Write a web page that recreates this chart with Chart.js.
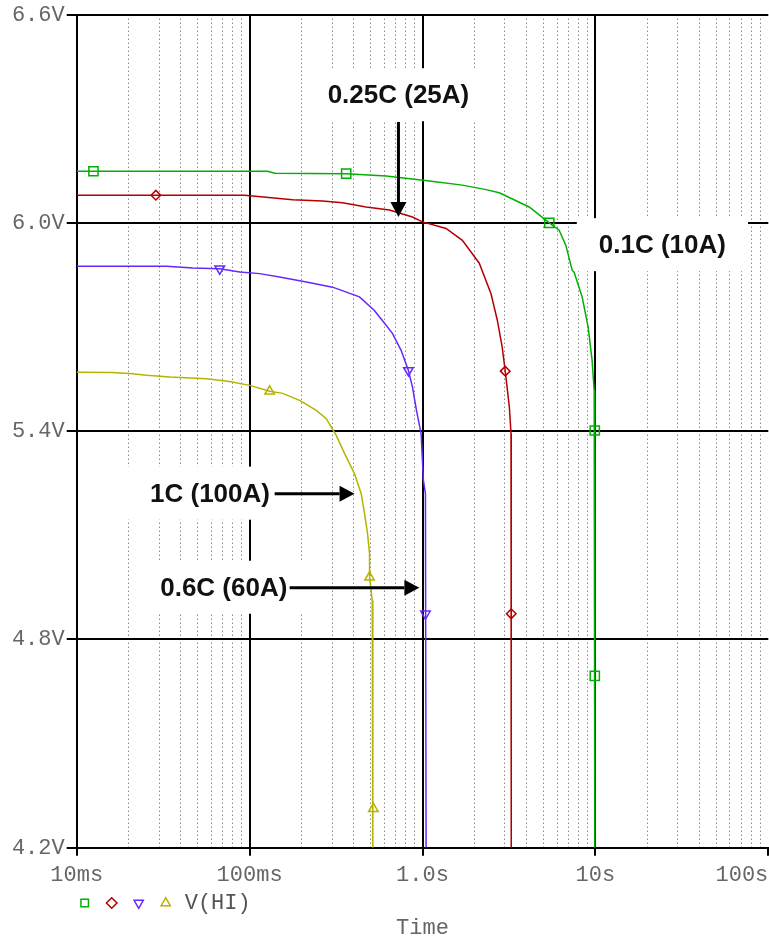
<!DOCTYPE html>
<html>
<head>
<meta charset="utf-8">
<title>V(HI) discharge curves</title>
<script src="https://cdn.jsdelivr.net/npm/chart.js@4.4.1/dist/chart.umd.min.js"></script>
<style>
  html, body { margin: 0; padding: 0; background: #fff; }
  #wrap { width: 769px; height: 939px; }
</style>
</head>
<body>
<div id="wrap"><canvas id="vChart"></canvas></div>
<script>
/* ── DATA ── */
// time axis in seconds (log), voltage axis in volts
const xTickValues = [0.01, 0.1, 1, 10, 100];
const xTickLabels = ["10ms", "100ms", "1.0s", "10s", "100s"];
const yTickValues = [4.2, 4.8, 5.4, 6.0, 6.6];

// 0.1C (10A)
const greenT = [0.01, 0.127, 0.14, 0.362, 0.617, 1.096, 1.70, 2.33, 2.78, 4.14, 5.41, 6.17, 6.74, 7.34, 7.53, 8.38, 9.08, 9.57, 9.84, 9.92, 9.92];
const greenV = [6.149, 6.149, 6.143, 6.142, 6.135, 6.121, 6.109, 6.096, 6.087, 6.046, 6.0, 5.979, 5.936, 5.864, 5.858, 5.787, 5.700, 5.604, 5.517, 5.402, 4.2];
const greenMarkT = [0.0125, 0.362, 5.41, 9.92, 9.92];
const greenMarkV = [6.149, 6.142, 6.0, 5.402, 4.695];

// 0.25C (25A)
const redT = [0.01, 0.0937, 0.1775, 0.264, 0.345, 0.472, 0.644, 0.874, 1.0, 1.368, 1.70, 2.13, 2.49, 2.71, 2.89, 3.01, 3.18, 3.25, 3.26];
const redV = [6.080, 6.080, 6.067, 6.063, 6.058, 6.046, 6.037, 6.017, 6.003, 5.984, 5.950, 5.884, 5.796, 5.719, 5.642, 5.573, 5.469, 5.393, 4.2];
const redMarkT = [0.0287, 3.01, 3.26];
const redMarkV = [6.080, 5.573, 4.874];

// 0.6C (60A)
const blueT = [0.01, 0.0331, 0.0469, 0.0672, 0.0877, 0.1143, 0.149, 0.213, 0.302, 0.432, 0.527, 0.586, 0.670, 0.752, 0.829, 0.875, 0.923, 0.982, 1.012, 1.040, 1.049];
const blueV = [5.875, 5.875, 5.870, 5.868, 5.859, 5.854, 5.844, 5.830, 5.815, 5.787, 5.748, 5.719, 5.682, 5.633, 5.575, 5.527, 5.460, 5.392, 5.258, 5.220, 4.2];
const blueMarkT = [0.0672, 0.829, 1.040];
const blueMarkV = [5.868, 5.575, 4.874];

// 1C (100A)
const oliveT = [0.01, 0.0159, 0.0203, 0.0254, 0.0346, 0.0563, 0.0767, 0.1001, 0.1306, 0.1553, 0.1946, 0.243, 0.2775, 0.317, 0.354, 0.404, 0.442, 0.462, 0.481, 0.494, 0.494, 0.512, 0.516];
const oliveV = [5.570, 5.569, 5.566, 5.561, 5.556, 5.551, 5.543, 5.532, 5.515, 5.509, 5.489, 5.460, 5.436, 5.388, 5.336, 5.278, 5.220, 5.163, 5.105, 5.047, 4.979, 4.912, 4.2];
const oliveMarkT = [0.1306, 0.494, 0.520];
const oliveMarkV = [5.515, 4.979, 4.312];

// callouts (anchor in data units: t, v)
const notes = [
    { text: "0.25C (25A)", t: 0.726, v: 6.368, arrow: [0.726, 6.291, 0.726, 6.017] },
    { text: "0.1C (10A)", t: 24.4, v: 5.936 },
    { text: "1C (100A)", t: 0.059, v: 5.220, arrow: [0.1396, 5.220, 0.4046, 5.220] },
    { text: "0.6C (60A)", t: 0.0709, v: 4.949, arrow: [0.1704, 4.949, 0.959, 4.949] },
];

/* ── HELPERS ── */
const toXY = (ts, vs) => ts.map((t, i) => ({ x: t, y: vs[i] }));

function curve(ts, vs, color) {
    return {
        label: "",
        data: toXY(ts, vs),
        borderColor: color,
        borderWidth: 1.5,
        pointRadius: 0,
        fill: false,
        tension: 0,
        isCurve: true,
    };
}

function markers(ts, vs, color, style, rot, size, label) {
    return {
        label: label,
        data: toXY(ts, vs),
        showLine: false,
        pointStyle: style,
        rotation: rot,
        pointRotation: rot,
        pointRadius: size,
        pointBorderWidth: 1.5,
        borderWidth: 1.5,
        borderColor: color,
        backgroundColor: "rgba(0,0,0,0)",
    };
}

const GREEN = "#00b000";
const RED = "#b40000";
const BLUE = "#6428ff";
const OLIVE = "#b4b400";

/* ── CALLOUT PLUGIN ── */
const noteFont = 'bold 26px "Liberation Sans", Arial, sans-serif';

function arrow(ctx, x1, y1, x2, y2) {
    const ang = Math.atan2(y2 - y1, x2 - x1);
    const headLen = 15, headHalf = 8;
    const bx = x2 - headLen * Math.cos(ang);
    const by = y2 - headLen * Math.sin(ang);
    ctx.strokeStyle = "#000";
    ctx.lineWidth = 3;
    ctx.beginPath();
    ctx.moveTo(x1, y1);
    ctx.lineTo(bx, by);
    ctx.stroke();
    ctx.fillStyle = "#000";
    ctx.beginPath();
    ctx.moveTo(x2, y2);
    ctx.lineTo(bx - headHalf * Math.sin(ang), by + headHalf * Math.cos(ang));
    ctx.lineTo(bx + headHalf * Math.sin(ang), by - headHalf * Math.cos(ang));
    ctx.closePath();
    ctx.fill();
}

const calloutPlugin = {
    id: "callouts",
    beforeDatasetsDraw(chart) {
        const { ctx, scales } = chart;
        ctx.save();
        ctx.font = noteFont;
        ctx.fillStyle = "#fff";
        notes.forEach((n) => {
            const cx = scales.x.getPixelForValue(n.t);
            const cy = scales.y.getPixelForValue(n.v);
            const w = ctx.measureText(n.text).width;
            ctx.fillRect(cx - w / 2 - 22, cy - 27, w + 44, 53);
        });
        ctx.restore();
    },
    afterDatasetsDraw(chart) {
        const { ctx, scales } = chart;
        ctx.save();
        ctx.font = noteFont;
        ctx.textAlign = "center";
        ctx.textBaseline = "middle";
        notes.forEach((n) => {
            const cx = scales.x.getPixelForValue(n.t);
            const cy = scales.y.getPixelForValue(n.v);
            ctx.fillStyle = "#111";
            ctx.fillText(n.text, cx, cy + 1);
            if (n.arrow) {
                const [t1, v1, t2, v2] = n.arrow;
                arrow(ctx,
                    scales.x.getPixelForValue(t1), scales.y.getPixelForValue(v1),
                    scales.x.getPixelForValue(t2), scales.y.getPixelForValue(v2));
            }
        });
        ctx.restore();
    },
};

/* ── CHART ── */
Chart.defaults.font.family = '"Liberation Mono", "DejaVu Sans Mono", monospace';
Chart.defaults.color = "#666";

const minorTicks = [];
[0.01, 0.1, 1, 10].forEach((d) => {
    for (let k = 2; k <= 9; k++) minorTicks.push({ value: +(d * k).toPrecision(3) });
});

const vCtx = document.getElementById("vChart").getContext("2d");
const vChart = new Chart(vCtx, {
    type: "line",
    data: {
        datasets: [
            curve(greenT, greenV, GREEN),
            curve(redT, redV, RED),
            curve(blueT, blueV, BLUE),
            curve(oliveT, oliveV, OLIVE),
            markers(greenMarkT, greenMarkV, GREEN, "rect", 0, 6.5, ""),
            markers(redMarkT, redMarkV, RED, "rectRot", 0, 4.8, ""),
            markers(blueMarkT, blueMarkV, BLUE, "triangle", 180, 5.5, ""),
            markers(oliveMarkT, oliveMarkV, OLIVE, "triangle", 0, 5.5, "V(HI)"),
        ],
    },
    options: {
        responsive: true,
        maintainAspectRatio: false,
        animation: false,
        layout: { autoPadding: false, padding: { top: 14.7, right: 0.7, left: 0, bottom: 0 } },
        scales: {
            x: {
                type: "logarithmic",
                position: "bottom",
                min: 0.01,
                max: 100,
                afterBuildTicks: (s) => { s.ticks = xTickValues.map((v) => ({ value: v })); },
                afterFit: (s) => { s.height = 44.3; s.paddingLeft = 0; s.paddingRight = 0; },
                grid: {
                    color: (c) => (c.tick && c.tick.value === 100 ? "rgba(0,0,0,0)" : "#000"),
                    lineWidth: 2,
                    tickLength: 8,
                    tickWidth: 2,
                    tickColor: "#000",
                },
                border: { color: "#000", width: 2 },
                ticks: {
                    autoSkip: false,
                    maxRotation: 0,
                    padding: 6,
                    color: "#666",
                    font: { size: 22 },
                    // last label padded so it ends at the 100s tick
                    callback: (value, i) => (i === xTickLabels.length - 1 ? xTickLabels[i] + "    " : xTickLabels[i]),
                },
            },
            xMinor: {
                type: "logarithmic",
                position: "bottom",
                min: 0.01,
                max: 100,
                afterBuildTicks: (s) => { s.ticks = minorTicks.slice(); },
                grid: {
                    color: "rgba(40,40,40,0.8)",
                    lineWidth: 1,
                    drawTicks: false,
                },
                border: { display: false, dash: [1, 3] },
                ticks: { display: false },
            },
            y: {
                type: "linear",
                min: 4.2,
                max: 6.6,
                afterBuildTicks: (s) => { s.ticks = yTickValues.map((v) => ({ value: v })); },
                afterFit: (s) => { s.width = 76.7; s.paddingTop = 0; s.paddingBottom = 0; },
                grid: {
                    color: "#000",
                    lineWidth: 2,
                    tickLength: 10,
                    tickWidth: 2,
                    tickColor: "#000",
                },
                border: { color: "#000", width: 2 },
                ticks: {
                    padding: 2,
                    color: "#666",
                    font: { size: 22 },
                    callback: (value) => value.toFixed(1) + "V",
                },
            },
        },
        plugins: {
            legend: {
                display: true,
                position: "bottom",
                align: "start",
                fullSize: false,
                labels: {
                    usePointStyle: true,
                    boxWidth: 16,
                    boxHeight: 7.5,
                    padding: 0,
                    color: "#555",
                    font: { size: 22 },
                    filter: (item, data) => !data.datasets[item.datasetIndex].isCurve,
                },
            },
            title: {
                display: true,
                position: "bottom",
                fullSize: false,
                text: "Time",
                color: "#666",
                font: { size: 22, weight: "normal", lineHeight: 1 },
                padding: { top: -7, bottom: 0 },
            },
            tooltip: { enabled: false },
        },
    },
    plugins: [calloutPlugin],
});
</script>
</body>
</html>
